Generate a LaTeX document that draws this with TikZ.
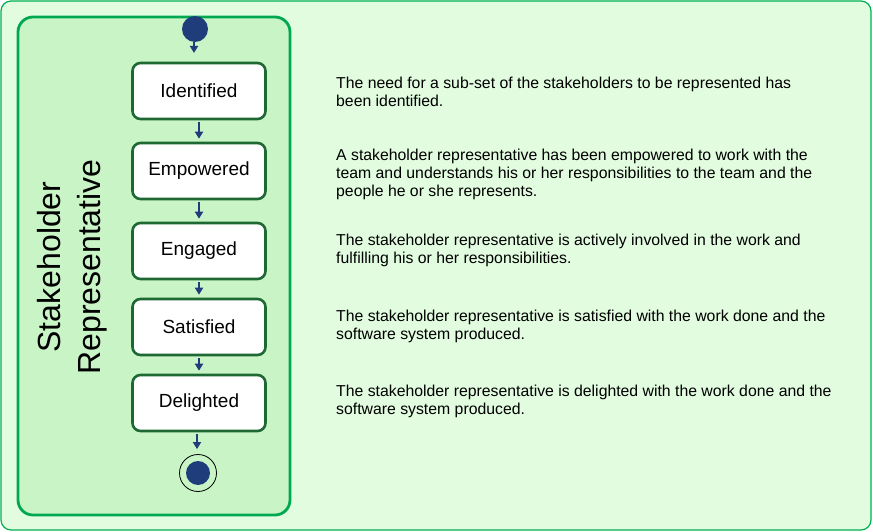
\documentclass[tikz,border=0pt]{standalone}
\usepackage{fontspec}
\setmainfont{Liberation Sans}
\usetikzlibrary{arrows.meta}
\definecolor{pagebg}{RGB}{226,252,224}
\definecolor{pageedge}{RGB}{0,176,80}
\definecolor{lanebg}{RGB}{200,244,198}
\definecolor{laneedge}{RGB}{0,168,80}
\definecolor{stateedge}{RGB}{30,104,52}
\definecolor{navy}{RGB}{31,61,122}
\tikzset{
  statebox/.style={draw=stateedge, line width=2.6pt, fill=white, rounded corners=8pt,
    minimum width=133pt, minimum height=56pt, font=\fontsize{19}{21}\selectfont},
  flow/.style={draw=navy, line width=2pt, -{Triangle[length=7pt,width=8pt]}},
  desc/.style={anchor=north west, align=left, inner sep=0pt,
    font=\fontsize{15.8}{18}\selectfont},
}
\begin{document}
\begin{tikzpicture}[x=1pt,y=-1pt]
  \useasboundingbox (0,0) rectangle (873,532);
  % page background
  \draw[draw=pageedge, line width=1.2pt, fill=pagebg, rounded corners=10pt] (1,1) rectangle (871,530);
  % swimlane
  \draw[draw=laneedge, line width=2.8pt, fill=lanebg, rounded corners=15pt] (18,17) rectangle (290,515);
  \node[rotate=90, align=center, font=\fontsize{32}{40}\selectfont] (lane) at (72,267)
    {Stakeholder\\Representative};

  % initial and final states
  \node[circle, fill=navy, minimum size=26pt, inner sep=0pt] (start) at (195,29) {};
  \node[circle, draw=black, line width=0.8pt, minimum size=37pt, inner sep=0pt] (endring) at (198,473) {};
  \node[circle, fill=navy, minimum size=24pt, inner sep=0pt] (end) at (198,473) {};

  % states
  \node[statebox] (s1) at (199,91) {Identified};
  \node[statebox] (s2) at (199,171) {Empowered};
  \node[statebox] (s3) at (199,251) {Engaged};
  \node[statebox] (s4) at (199,327) {Satisfied};
  \node[statebox] (s5) at (199,403) {Delighted};

  % transitions
  \coordinate (a0) at (194,53);
  \draw[flow] (start.south) ++(-1,0) -- (a0);
  \draw[flow] ([yshift=-2pt]s1.south) -- ([yshift=3pt]s2.north);
  \draw[flow] ([yshift=-2pt]s2.south) -- ([yshift=3pt]s3.north);
  \draw[flow] ([yshift=-2pt]s3.south) -- ([yshift=3pt]s4.north);
  \draw[flow] ([yshift=-2pt]s4.south) -- ([yshift=3pt]s5.north);
  \draw[flow] ([yshift=-2pt,xshift=-2pt]s5.south) -- ([xshift=-1pt,yshift=5pt]endring.north);

  % descriptions
  \node[desc] (d1) at (336,77) {The need for a sub-set of the stakeholders to be represented has\\been identified.};
  \node[desc] (d2) at (336,149) {A stakeholder representative has been empowered to work with the\\team and understands his or her responsibilities to the team and the\\people he or she represents.};
  \node[desc] (d3) at (336,234) {The stakeholder representative is actively involved in the work and\\fulfilling his or her responsibilities.};
  \node[desc] (d4) at (336,310) {The stakeholder representative is satisfied with the work done and the\\software system produced.};
  \node[desc] (d5) at (336,385) {The stakeholder representative is delighted with the work done and the\\software system produced.};
\end{tikzpicture}
\end{document}
